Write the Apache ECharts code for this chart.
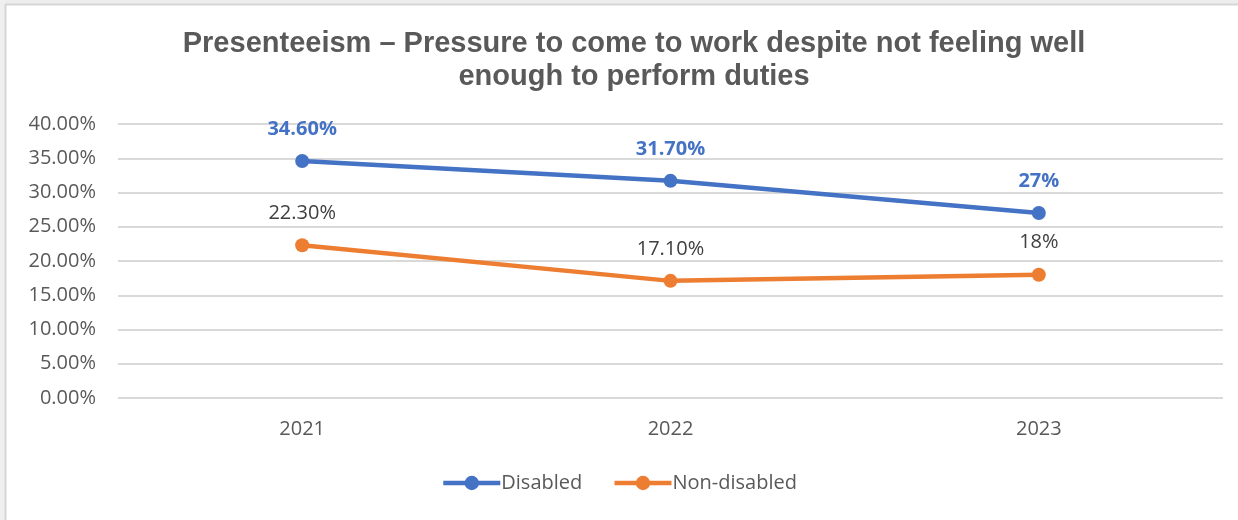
<!DOCTYPE html>
<html>
<head>
<meta charset="utf-8">
<script src="https://cdn.jsdelivr.net/npm/echarts@6/dist/echarts.min.js"></script>
<style>
  html, body { margin: 0; padding: 0; background: #ffffff; }
  #chart { width: 1238px; height: 520px; }
</style>
</head>
<body>
<div id="chart"></div>
<script>
// Survey years
const years = ['2021', '2022', '2023'];
// Share of respondents reporting pressure to work while unwell (%)
const disabled = [34.6, 31.7, 27];
const nonDisabled = [22.3, 17.1, 18];
// Point labels as published
const disabledLabels = ['34.60%', '31.70%', '27%'];
const nonDisabledLabels = ['22.30%', '17.10%', '18%'];
const seriesNames = ['Disabled', 'Non-disabled'];

const blue = '#4472C4';
const orange = '#ED7D31';
const bodyFont = '"Open Sans", "Noto Sans", sans-serif';

const chart = echarts.init(document.getElementById('chart'));
chart.setOption({
  backgroundColor: '#ffffff',
  animation: false,
  graphic: [
    { type: 'rect', shape: { x: 0, y: 0, width: 1238, height: 4 }, style: { fill: '#ededed' }, silent: true },
    { type: 'rect', shape: { x: 0, y: 0, width: 5, height: 520 }, style: { fill: '#efefef' }, silent: true },
    { type: 'line', shape: { x1: 5, y1: 4.5, x2: 1238, y2: 4.5 }, style: { stroke: '#d6d6d6', lineWidth: 2 }, silent: true },
    { type: 'line', shape: { x1: 5.5, y1: 4, x2: 5.5, y2: 520 }, style: { stroke: '#d6d6d6', lineWidth: 2 }, silent: true }
  ],
  title: {
    text: 'Presenteeism – Pressure to come to work despite not feeling well\nenough to perform duties',
    left: 629,
    top: 22,
    textAlign: 'center',
    textStyle: {
      fontFamily: '"Liberation Sans", Arial, sans-serif',
      fontSize: 29,
      fontWeight: 'bold',
      color: '#595959',
      lineHeight: 33
    }
  },
  grid: { left: 118, right: 15, top: 124, bottom: 122, containLabel: false },
  legend: {
    data: seriesNames,
    bottom: 22,
    left: 'center',
    itemWidth: 57,
    itemHeight: 18,
    itemGap: 30,
    lineStyle: { width: 4.5 },
    textStyle: { fontFamily: bodyFont, fontSize: 20, color: '#595959', padding: [0, 0, 0, -4] }
  },
  xAxis: {
    type: 'category',
    data: years,
    boundaryGap: true,
    axisLine: { show: false },
    axisTick: { show: false },
    axisLabel: { fontFamily: bodyFont, fontSize: 20, color: '#595959', margin: 21 }
  },
  yAxis: {
    type: 'value',
    min: 0,
    max: 40,
    interval: 5,
    axisLine: { show: false },
    axisTick: { show: false },
    splitLine: { lineStyle: { color: '#d9d9d9', width: 2 } },
    axisLabel: {
      fontFamily: bodyFont,
      fontSize: 20,
      color: '#595959',
      margin: 22,
      formatter: v => v.toFixed(2) + '%'
    }
  },
  series: [
    {
      name: seriesNames[0],
      type: 'line',
      data: disabled,
      symbol: 'circle',
      symbolSize: 14,
      itemStyle: { color: blue },
      lineStyle: { color: blue, width: 4.5 },
      label: {
        show: true,
        position: 'top',
        distance: 15,
        fontFamily: bodyFont,
        fontSize: 20,
        fontWeight: 'bold',
        color: blue,
        formatter: p => disabledLabels[p.dataIndex]
      }
    },
    {
      name: seriesNames[1],
      type: 'line',
      data: nonDisabled,
      symbol: 'circle',
      symbolSize: 14,
      itemStyle: { color: orange },
      lineStyle: { color: orange, width: 4.5 },
      label: {
        show: true,
        position: 'top',
        distance: 15,
        fontFamily: bodyFont,
        fontSize: 20,
        color: '#404040',
        formatter: p => nonDisabledLabels[p.dataIndex]
      }
    }
  ]
});
</script>
</body>
</html>
